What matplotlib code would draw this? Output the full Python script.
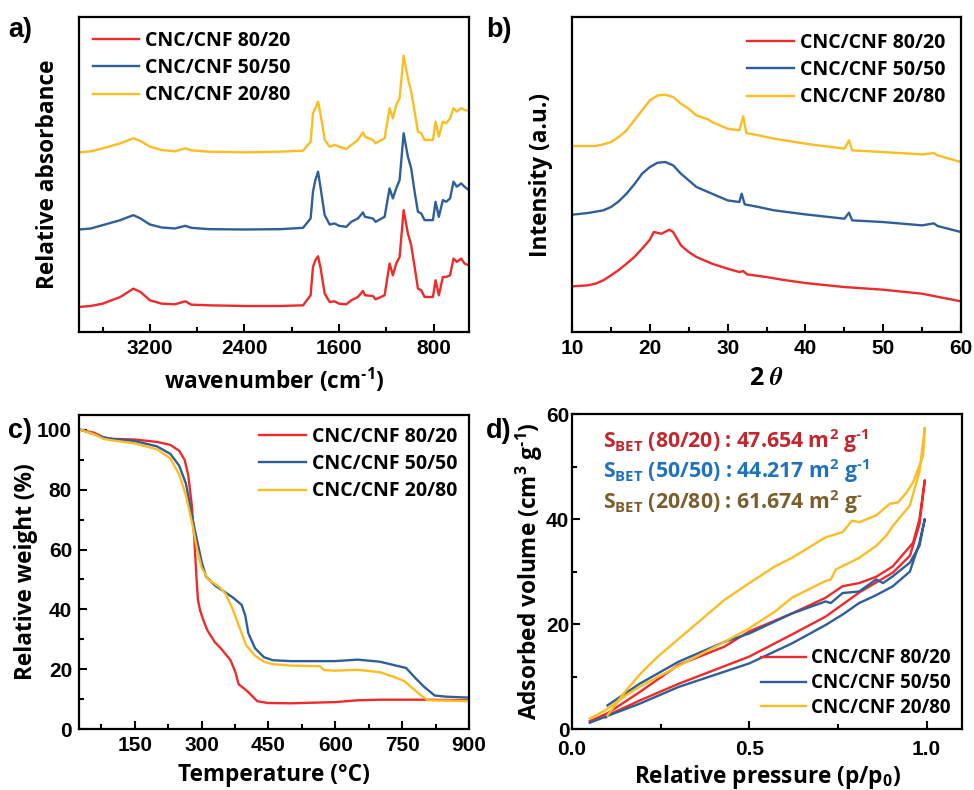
import matplotlib
matplotlib.use("Agg")
import matplotlib.pyplot as plt
from matplotlib.ticker import MultipleLocator, NullLocator

plt.rcParams['font.family'] = ['Liberation Sans', 'DejaVu Sans']
plt.rcParams['font.weight'] = 'bold'
plt.rcParams['mathtext.default'] = 'regular'
plt.rcParams['mathtext.fontset'] = 'stix'

RED, BLUE, YEL = '#ee2a2a', '#2f5f99', '#fbbd22'
NAMES = ['CNC/CNF 80/20', 'CNC/CNF 50/50', 'CNC/CNF 20/80']
LBL = dict(family='Open Sans', weight='bold', size=16.3)

# ---- a) FTIR ----
ftir_wn = [3800, 3700, 3600, 3450, 3340, 3280, 3200, 3100, 2990, 2900, 2850, 2700, 2400, 2100,
           1904, 1840, 1820, 1800, 1777, 1755, 1721, 1679, 1637, 1600, 1538, 1496, 1440, 1397,
           1380, 1313, 1290, 1214, 1172, 1144, 1116, 1087, 1053, 1017, 989, 960, 932, 904, 876,
           805, 783, 755, 721, 693, 660, 631, 603, 566, 538, 501]
ftir_8020 = [75, 78, 85, 105, 130, 120, 95, 85, 83, 92, 82, 80, 78, 78,
             80, 110, 195, 215, 227, 190, 115, 90, 92, 85, 83, 95, 105, 123,
             110, 108, 98, 110, 205, 170, 205, 225, 365, 295, 260, 195, 130, 125, 105,
             105, 155, 110, 165, 165, 170, 220, 210, 220, 205, 200]
ftir_5050 = [307, 310, 320, 335, 350, 340, 322, 313, 310, 318, 312, 308, 307, 308,
             312, 340, 420, 455, 480, 430, 350, 322, 325, 318, 315, 330, 340, 358,
             345, 340, 330, 345, 430, 400, 430, 455, 595, 525, 490, 420, 360, 355, 335,
             335, 390, 345, 395, 390, 400, 450, 435, 445, 435, 425]
ftir_2080 = [538, 541, 550, 565, 580, 572, 555, 545, 541, 550, 544, 540, 538, 540,
             543, 570, 655, 670, 690, 650, 575, 555, 560, 555, 548, 560, 575, 598,
             585, 575, 565, 580, 670, 640, 680, 700, 827, 760, 720, 660, 600, 595, 575,
             575, 630, 585, 630, 625, 640, 670, 660, 670, 665, 662]

# ---- b) XRD ----
xrd_t_r = [10, 12, 13, 14, 15, 16, 17, 18, 19, 20, 20.5, 21.5, 22.5, 23, 24, 25, 26, 28, 30,
           31.5, 32, 32.5, 35, 37, 40, 45, 50, 55, 60]
xrd_8020 = [137, 140, 145, 155, 170, 186, 205, 225, 250, 277, 300, 295, 307, 300, 260, 240, 225,
            205, 190, 180, 183, 173, 165, 157, 147, 135, 127, 115, 92]
xrd_t_b = [10, 12, 14, 15, 16, 17, 18, 19, 20, 21, 22, 23, 24, 25, 26, 28, 30, 31.5, 31.8, 32.2,
           34, 36, 40, 45, 45.6, 46, 50, 55, 56.5, 57, 60]
xrd_5050 = [352, 357, 365, 375, 392, 415, 443, 475, 495, 508, 510, 500, 475, 455, 435, 415, 395,
            390, 415, 383, 375, 365, 353, 340, 358, 335, 330, 320, 326, 318, 300]
xrd_t_y = [10, 13, 14, 15, 16, 17, 18, 19, 20, 21, 22, 23, 24, 25, 26, 27.5, 28, 30, 31.5, 32,
           32.4, 34, 36, 40, 45, 45.6, 46, 50, 55, 56.5, 57, 60]
xrd_2080 = [558, 558, 563, 570, 585, 605, 635, 665, 695, 710, 712, 705, 685, 670, 650, 638, 630,
            610, 605, 647, 597, 590, 580, 565, 550, 575, 545, 540, 533, 537, 530, 510]

# ---- c) TGA ----
tga_T_r = [30, 60, 80, 100, 150, 200, 230, 250, 262, 270, 278, 284, 288, 292, 297, 305, 313, 330,
           343, 365, 376, 383, 403, 425, 448, 500, 600, 650, 700, 800, 900]
tga_8020 = [100, 99, 97.5, 97, 96.8, 96, 95, 93, 90, 85, 75, 63, 52, 43, 39.5, 36, 33, 29, 27,
            23, 19, 15, 12.6, 9.3, 8.7, 8.6, 9, 9.6, 9.8, 9.8, 9.6]
tga_T_b = [30, 60, 80, 100, 150, 200, 230, 250, 265, 280, 290, 300, 310, 330, 350, 370, 390, 398,
           405, 420, 440, 460, 500, 600, 650, 700, 759, 780, 800, 823, 850, 900]
tga_5050 = [100, 98.5, 97.5, 97, 96.3, 94.5, 92, 88, 82, 70, 63, 56, 51, 48, 46, 44, 41.5, 38,
            32, 27, 24, 23, 22.7, 22.7, 23.2, 22.5, 20.4, 17, 14, 11.2, 10.8, 10.5]
tga_T_y = [30, 60, 80, 100, 150, 200, 230, 250, 265, 280, 290, 300, 315, 340, 355, 370, 385, 400,
           420, 440, 460, 500, 565, 575, 600, 650, 700, 730, 755, 790, 808, 850, 900]
tga_2080 = [100, 98.5, 97, 96.5, 95.5, 93.5, 90.5, 85, 78, 68, 60, 54, 50, 47.5, 45, 40, 34, 28,
            24.5, 22.5, 21.7, 21.2, 21, 19.7, 19.5, 19.8, 19, 17.5, 16, 11.5, 9.6, 9.5, 9.3]

# ---- d) BET isotherms (up one branch, back down the other) ----
bet_p_r = [0.05, 0.10, 0.19, 0.30, 0.43, 0.50, 0.62, 0.715, 0.763, 0.81, 0.858, 0.905, 0.962, 0.98,
           0.995, 0.98, 0.953, 0.905, 0.81, 0.715, 0.62, 0.50, 0.30, 0.19, 0.10, 0.095]
bet_8020 = [1.5, 3.0, 7.0, 12.2, 15.7, 18.6, 22, 25, 27.2, 27.8, 29, 31, 35.5, 40,
            47.4, 39, 33, 29.8, 26, 21.4, 18, 13.8, 8.6, 5.4, 2.6, 2.2]
bet_p_b = [0.05, 0.10, 0.19, 0.30, 0.50, 0.62, 0.715, 0.763, 0.81, 0.858, 0.905, 0.953, 0.98,
           0.995, 0.98, 0.953, 0.905, 0.877, 0.858, 0.81, 0.763, 0.73, 0.715, 0.62, 0.50, 0.43,
           0.30, 0.19, 0.10]
bet_5050 = [1.2, 2.5, 4.8, 8, 12.5, 16.3, 19.8, 21.8, 24, 25.5, 27.2, 30, 35.5,
            40, 34.9, 31.7, 29.1, 27.8, 28.5, 26.2, 25.9, 24, 24.3, 22, 18.2, 16.6,
            12.8, 8.6, 4.5]
bet_p_y = [0.05, 0.095, 0.156, 0.194, 0.30, 0.43, 0.50, 0.573, 0.62, 0.715, 0.73, 0.744, 0.81,
           0.858, 0.886, 0.905, 0.953, 0.98, 0.995, 0.99, 0.962, 0.943, 0.92, 0.896, 0.858,
           0.81, 0.79, 0.763, 0.744, 0.715, 0.62, 0.573, 0.50, 0.43, 0.336, 0.242, 0.194,
           0.147, 0.10]
bet_2080 = [2.0, 3.6, 6.6, 8.2, 12.0, 16.6, 19.2, 22.4, 25, 28.2, 28.5, 30.4, 32.6,
            34.9, 36.8, 38.7, 42.6, 49, 57.4, 52, 47, 45, 43.2, 42.9, 40.7,
            39.4, 39.7, 37.5, 37.1, 36.5, 32.6, 31, 27.8, 24.6, 19.2, 13.8, 10.6,
            6.9, 2.6]

SBET_TXT = [r'S$_{BET}$ (80/20) : 47.654 m$^{2}$ g$^{‐1}$',
            r'S$_{BET}$ (50/50) : 44.217 m$^{2}$ g$^{‐1}$',
            r'S$_{BET}$ (20/80) : 61.674 m$^{2}$ g$^{‐}$']
SBET_COL = ['#c1272d', '#1f72c0', '#7a5f2c']

fig = plt.figure(figsize=(9.74, 7.9), dpi=100)
axa = fig.add_axes([0.0811, 0.5797, 0.4004, 0.3987])
axb = fig.add_axes([0.5873, 0.5797, 0.3994, 0.3987])
axc = fig.add_axes([0.0811, 0.0772, 0.4004, 0.3975])
axd = fig.add_axes([0.5873, 0.0772, 0.4004, 0.3987])


def style(ax):
    for s in ax.spines.values():
        s.set_linewidth(1.6)
    ax.tick_params(which='both', direction='in', width=1.5, labelsize=15, pad=5)
    ax.tick_params(which='major', length=6)
    ax.tick_params(which='minor', length=3.5)


def legend(ax, loc, size=14, sp=0.38, bap=0.4, **kw):
    ax.legend(loc=loc, frameon=False, prop=dict(family='Open Sans', weight='bold', size=size),
              handlelength=2.4, handletextpad=0.3, labelspacing=sp, borderaxespad=bap, **kw)


lw = 1.7
# a
axa.plot(ftir_wn, ftir_8020, color=RED, lw=lw, label=NAMES[0])
axa.plot(ftir_wn, ftir_5050, color=BLUE, lw=lw, label=NAMES[1])
axa.plot(ftir_wn, ftir_2080, color=YEL, lw=lw, label=NAMES[2])
axa.set_xlim(3800, 500)
axa.set_ylim(0, 943)
axa.set_xticks([3200, 2400, 1600, 800])
axa.xaxis.set_minor_locator(MultipleLocator(400))
axa.yaxis.set_major_locator(NullLocator())
style(axa)
axa.set_xlabel('wavenumber (cm$^{‐1}$)', labelpad=6, **LBL)
axa.set_ylabel('Relative absorbance', labelpad=14, **LBL)
legend(axa, 'upper left', bap=0.3)

# b
axb.plot(xrd_t_r, xrd_8020, color=RED, lw=lw, label=NAMES[0])
axb.plot(xrd_t_b, xrd_5050, color=BLUE, lw=lw, label=NAMES[1])
axb.plot(xrd_t_y, xrd_2080, color=YEL, lw=lw, label=NAMES[2])
axb.set_xlim(10, 60)
axb.set_ylim(0, 945)
axb.xaxis.set_major_locator(MultipleLocator(10))
axb.xaxis.set_minor_locator(MultipleLocator(5))
axb.yaxis.set_major_locator(NullLocator())
style(axb)
axb.set_xlabel(r'2 $\mathit{\theta}$', labelpad=6, family='Open Sans', weight='bold', size=18)
axb.set_ylabel('Intensity (a.u.)', labelpad=14, **LBL)
legend(axb, 'upper right')

# c
axc.plot(tga_T_r, tga_8020, color=RED, lw=lw, label=NAMES[0])
axc.plot(tga_T_b, tga_5050, color=BLUE, lw=lw, label=NAMES[1])
axc.plot(tga_T_y, tga_2080, color=YEL, lw=lw, label=NAMES[2])
axc.set_xlim(25, 900)
axc.set_ylim(0, 105)
axc.set_xticks([150, 300, 450, 600, 750, 900])
axc.xaxis.set_minor_locator(MultipleLocator(75))
axc.yaxis.set_major_locator(MultipleLocator(20))
axc.yaxis.set_minor_locator(MultipleLocator(10))
style(axc)
axc.set_xlabel('Temperature (°C)', labelpad=6, **LBL)
axc.set_ylabel('Relative weight (%)', labelpad=-1, **LBL)
legend(axc, 'upper right', borderpad=0.2)

# d
axd.plot(bet_p_r, bet_8020, color=RED, lw=lw, label=NAMES[0])
axd.plot(bet_p_b, bet_5050, color=BLUE, lw=lw, label=NAMES[1])
axd.plot(bet_p_y, bet_2080, color=YEL, lw=lw, label=NAMES[2])
axd.set_xlim(0, 1.1)
axd.set_ylim(0, 60)
axd.set_xticks([0.0, 0.5, 1.0])
axd.xaxis.set_minor_locator(MultipleLocator(0.25))
axd.yaxis.set_major_locator(MultipleLocator(20))
axd.yaxis.set_minor_locator(MultipleLocator(10))
style(axd)
axd.tick_params(axis='y', pad=2)
axd.tick_params(axis='x', pad=8)
axd.set_xlabel('Relative pressure (p/p$_0$)', labelpad=3, **LBL)
axd.set_ylabel('Adsorbed volume (cm$^{3}$ g$^{‐1}$)', labelpad=1, **LBL)
legend(axd, 'lower right', size=13.5, sp=0.25, bap=0.2)
for i, (t, c) in enumerate(zip(SBET_TXT, SBET_COL)):
    axd.text(0.08, 0.915 - i * 0.097, t, transform=axd.transAxes, color=c,
             family='Open Sans', weight='bold', size=15.3, va='center')

for x, y, s in [(0.008, 0.962, 'a)'), (0.499, 0.962, 'b)'), (0.008, 0.455, 'c)'), (0.499, 0.455, 'd)')]:
    fig.text(x, y, s, size=19.5, weight='bold', va='center')

fig.savefig('out.png', dpi=100)
